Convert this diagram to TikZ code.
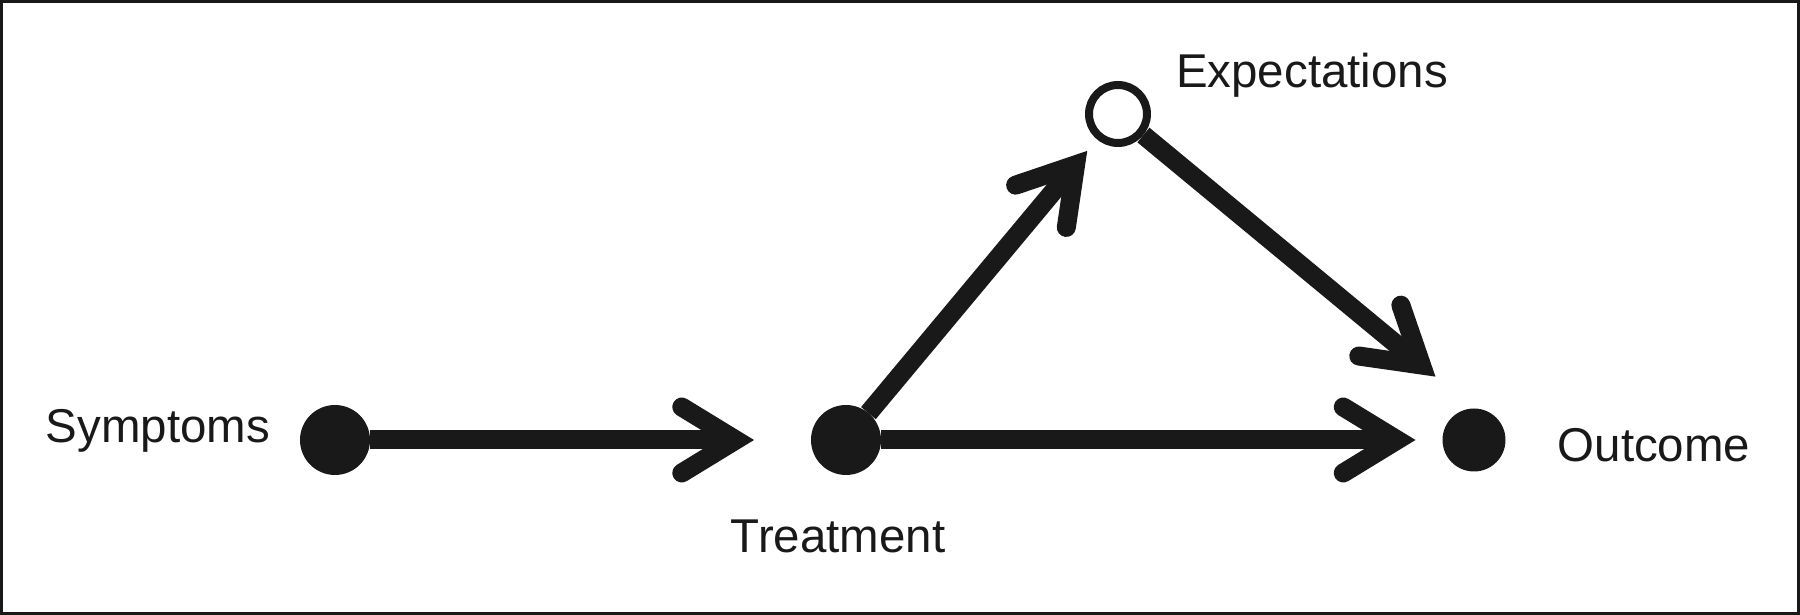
\documentclass[tikz,border=0pt]{standalone}
\usepackage{fontspec}
\setmainfont{Liberation Sans}
\usetikzlibrary{arrows.meta}
\definecolor{ink}{gray}{0.1}
\tikzset{
  dot/.style={circle, fill=ink, inner sep=0pt, outer sep=0pt, minimum size=#1},
  hollow/.style={circle, draw=ink, line width=0.8mm, fill=white, inner sep=0pt, minimum size=5.8mm},
  lbl/.style={font=\fontsize{13.5}{16}\selectfont, text=ink, inner sep=0pt},
  edge/.style={draw=ink, line width=1.9mm,
    -{Straight Barb[length=5.4mm, width=6.6mm, line cap=round, line join=miter]}},
}
\begin{document}
\begin{tikzpicture}
    \useasboundingbox (0, 0) rectangle (18, 6.15);
    \draw[ink, line width=0.3mm] (0.015, 0.015) rectangle (17.985, 6.135);
    % dots
    \node[dot=7mm] (sym) at (3.35, 1.75) {};
    \node[dot=7mm] (treat) at (8.46, 1.75) {};
    \node[dot=6.3mm] (outc) at (14.74, 1.75) {};
    \node[hollow] (expect) at (11.18, 5.01) {};
    % labels
    \node[lbl] (symlbl) at (1.58, 1.84) {Symptoms};
    \node[lbl] (treatlbl) at (8.38, 0.79) {Treatment};
    \node[lbl] (outclbl) at (16.54, 1.70) {Outcome};
    \node[lbl] (expectlbl) at (13.12, 5.40) {Expectations};
    % arrows
    \draw[edge, shorten >=5.7mm] (sym) -- (treat);
    \draw[edge, shorten >=2.7mm] (treat) -- (outc);
    \draw[edge, shorten >=1.5mm] (treat) -- (expect);
    \draw[edge, shorten >=5mm] (expect) -- (outc.north);
\end{tikzpicture}
\end{document}
